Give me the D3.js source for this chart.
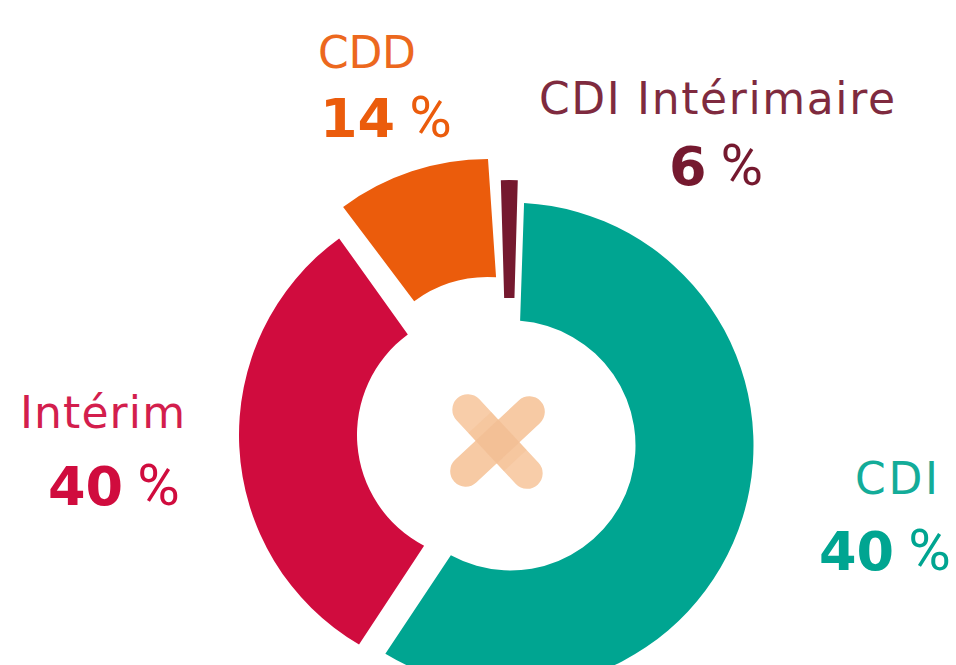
<!DOCTYPE html>
<html>
<head>
<meta charset="utf-8">
<script src="https://cdnjs.cloudflare.com/ajax/libs/d3/7.8.5/d3.min.js"></script>
<style>
html,body{margin:0;padding:0;background:#fff;overflow:hidden}
svg{display:block}
</style>
</head>
<body>
<svg id="chart" width="956" height="665" viewBox="0 0 956 665"></svg>
<script>
// Data
const categories = ["CDI", "Intérim", "CDD", "CDI Intérimaire"];
const shareLabels = [40, 40, 14, 6];
const drawnShares = [205.7, 114.2, 38, 4.2];   // arc sizes as they are drawn in the picture

// Style and layout
const colors = ["#00a591", "#d00c3e", "#eb5c0c", "#75192f"];
const centers = [[510.5, 445.5], [482, 435], [488, 402], [509.3, 423]];
const turn = [0, 0, 0, -3.8];
// edge tilt in degrees: outer start, inner start, outer end, inner end
const edgeTilt = [
  [-0.6, 0.6, 1.5, -1.0],
  [0.9, -1.9, 0.3, -0.1],
  [-0.3, 0.1, -1.7, 2.0],
  [0.1, -0.26, -0.1, 0.26]
];
const nameAnchors = [[896.5, 494, 83], [102.5, 428, 165], [367, 68, 98], [717, 114, 356]];
const valueAnchors = [[819, 570], [48, 505], [320, 137], [669, 185]];
const rad = Math.PI / 180;
const startDeg = 3.8;
const innerR = 125, outerR = 243;

const svg = d3.select("#chart");
const sum = d3.sum(drawnShares);
const angle = d3.scaleLinear().domain([0, sum]).range([startDeg, startDeg + sum]);
const running = [0, ...d3.cumsum(drawnShares)];
const sector = (v, i) => {
  const a0 = angle(running[i]), a1 = angle(running[i + 1]), t = edgeTilt[i];
  const toRad = deg => (deg - 90) * rad;
  const p = d3.path();
  p.arc(0, 0, outerR, toRad(a0 + t[0]), toRad(a1 + t[2]));
  p.arc(0, 0, innerR, toRad(a1 + t[3]), toRad(a0 + t[1]), true);
  p.closePath();
  return p.toString();
};

svg.append("g").selectAll("path").data(drawnShares).join("path")
  .attr("d", sector)
  .attr("fill", (d, i) => colors[i])
  .attr("transform", (d, i) => `translate(${centers[i]}) rotate(${turn[i]})`);

// Plaster icon
const icon = svg.append("g").attr("transform", "translate(497.5,441.5)");
const stripAngles = [47, -43];
icon.selectAll("rect.strip").data(stripAngles).join("rect")
  .attr("class", "strip")
  .attr("x", -59).attr("y", -15.5).attr("width", 118).attr("height", 31).attr("rx", 15.5)
  .attr("fill", (d, i) => i ? "#f7caa4" : "#f8cda9")
  .attr("transform", d => `rotate(${d})`);
icon.append("rect")
  .attr("x", -26).attr("y", -15.5).attr("width", 52).attr("height", 31)
  .attr("fill", "#f2bd92").attr("opacity", 0.4).attr("transform", "rotate(47)");
icon.append("rect")
  .attr("x", -15.5).attr("y", -15.5).attr("width", 31).attr("height", 31)
  .attr("fill", "#f0ba8e").attr("opacity", 0.4).attr("transform", "rotate(47)");

// Labels
svg.append("g").selectAll("text").data(categories).join("text")
  .attr("x", (d, i) => nameAnchors[i][0])
  .attr("y", (d, i) => nameAnchors[i][1])
  .attr("text-anchor", "middle")
  .attr("font-family", "'DejaVu Sans', sans-serif")
  .attr("font-size", 44)
  .attr("fill", (d, i) => colors[i])
  .attr("opacity", 0.92)
  .attr("textLength", (d, i) => nameAnchors[i][2])
  .attr("lengthAdjust", "spacing")
  .text(d => d);

const values = svg.append("g").selectAll("text").data(shareLabels).join("text")
  .attr("x", (d, i) => valueAnchors[i][0])
  .attr("y", (d, i) => valueAnchors[i][1])
  .attr("font-size", 54)
  .attr("fill", (d, i) => colors[i]);
values.append("tspan").attr("font-family", "'DejaVu Sans', sans-serif").attr("font-weight", 700).text(d => d);
values.append("tspan").attr("font-family", "Roboto, sans-serif").attr("font-weight", 400)
  .attr("font-size", 58).attr("dx", 14).text("%");
</script>
</body>
</html>
